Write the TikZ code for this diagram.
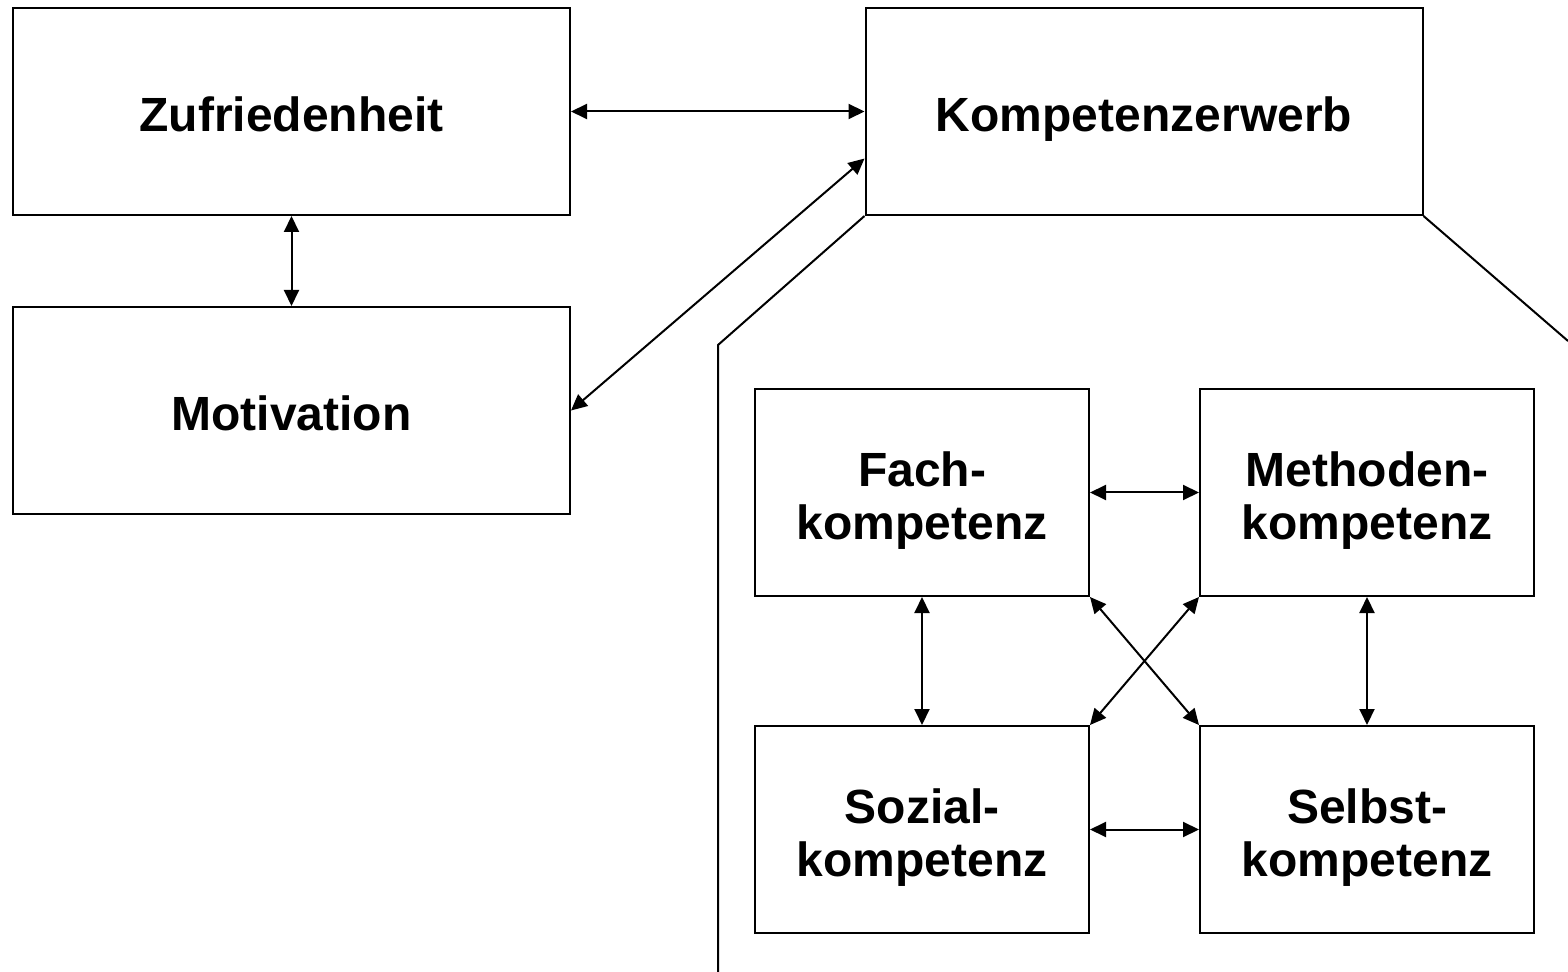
\documentclass[tikz,border=0pt]{standalone}
\usepackage{fontspec}
\setmainfont{Liberation Sans}
\usetikzlibrary{arrows.meta,calc}
\tikzset{
  boxtext/.style={font=\fontsize{24}{26.5}\selectfont\bfseries, align=center},
  bigbox/.style={draw=black, line width=1pt, minimum width=278.5pt, minimum height=103.5pt, inner sep=0pt,
    boxtext, text height=20.5pt, text depth=0pt},
  smallbox/.style={draw=black, line width=1pt, minimum width=167pt, minimum height=103.5pt, inner sep=0pt},
  twoline/.style={label={[boxtext, yshift=-4.25pt, inner sep=0pt]center:#1}},
  link/.style={line width=1pt, {Triangle[length=8pt,width=7.5pt]}-{Triangle[length=8pt,width=7.5pt]}},
  frame/.style={line width=1pt}
}
\begin{document}
\begin{tikzpicture}[x=0.5pt,y=-0.5pt]
\useasboundingbox (0,0) rectangle (1568,972);
\node[bigbox] (zuf) at (291.5,111.5) {Zufriedenheit};
\node[bigbox] (mot) at (291.5,410.5) {Motivation};
\node[bigbox] (komp) at (1144,111.5) {Kompetenzerwerb};
\node[smallbox, twoline={Fach-\\kompetenz}] (fach) at (922,492.5) {};
\node[smallbox, twoline={Methoden-\\kompetenz}] (meth) at (1367,492.5) {};
\node[smallbox, twoline={Sozial-\\kompetenz}] (soz) at (922,829.5) {};
\node[smallbox, twoline={Selbst-\\kompetenz}] (selbst) at (1367,829.5) {};

\coordinate (kin) at ($(komp.south west)!0.275!(komp.north west)$);
\coordinate (lbend) at (718,345);
\coordinate (lend) at (718,972);
\coordinate (rend) at (1568,341);

\draw[link] (zuf.east) -- (komp.west);
\draw[link] (zuf.south) -- (mot.north);
\draw[link] (mot.east) -- (kin);
\draw[frame] (komp.south west) -- (lbend) -- (lend);
\draw[frame] (komp.south east) -- (rend);

\draw[link] (fach.east) -- (meth.west);
\draw[link] (soz.east) -- (selbst.west);
\draw[link] (fach.south) -- (soz.north);
\draw[link] (meth.south) -- (selbst.north);
\draw[link] (fach.south east) -- (selbst.north west);
\draw[link] (meth.south west) -- (soz.north east);
\end{tikzpicture}
\end{document}
